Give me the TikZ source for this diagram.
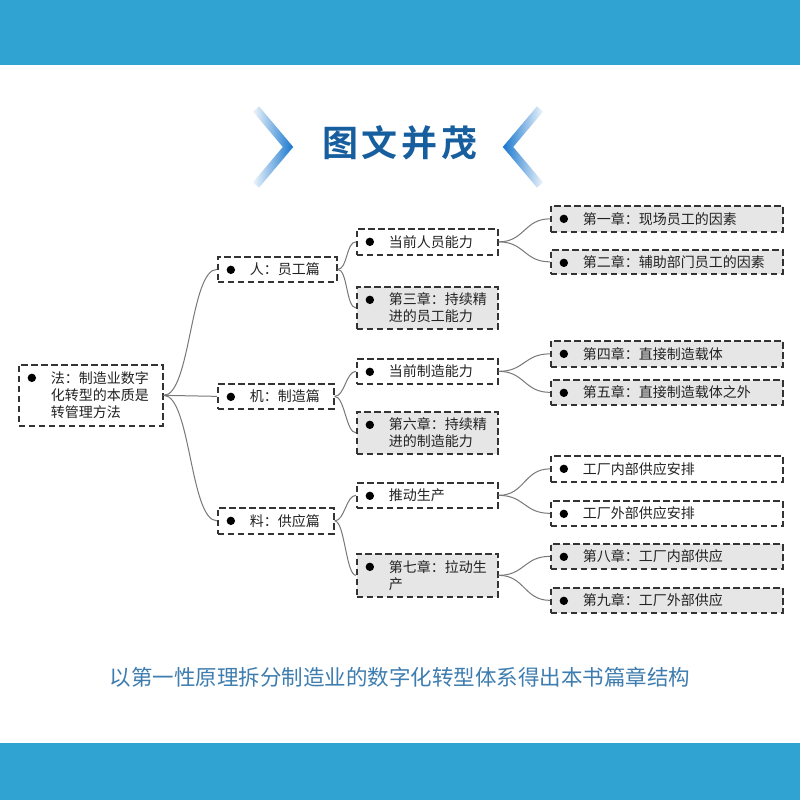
\documentclass[tikz,border=0pt]{standalone}
\usepackage{fontspec}
\setmainfont{Noto Sans CJK SC}
\newfontfamily\titlefont{Noto Sans CJK SC Bold}
\usetikzlibrary{fadings}
\definecolor{barblue}{RGB}{49,163,211}
\definecolor{titleblue}{RGB}{22,94,158}
\definecolor{chevblue}{RGB}{30,122,208}
\definecolor{capblue}{RGB}{62,125,175}
\definecolor{boxline}{RGB}{51,51,51}
\definecolor{boxgray}{RGB}{230,230,230}
\definecolor{connc}{RGB}{120,120,120}
\definecolor{textc}{RGB}{34,34,34}
\tikzfading[name=fadeL, left color=transparent!95, middle color=transparent!10, right color=transparent!0]
\tikzfading[name=fadeR, left color=transparent!0, middle color=transparent!10, right color=transparent!95]
\newcommand\boxtxt[2]{\makebox[#1][l]{\hspace{32pt}\raisebox{-2pt}[\height][\depth]{\begin{tabular}{@{}l@{}}#2\end{tabular}}}}
\begin{document}
\begin{tikzpicture}[x=1pt,y=-1pt,
  box/.style={rectangle, draw=boxline, line width=1.7pt, dash pattern=on 6.5pt off 3.5pt,
    anchor=north west, inner sep=0pt, text=textc,
    font=\fontsize{14pt}{17pt}\selectfont,
    path picture={\fill[black] ([xshift=13pt,yshift=-13pt]path picture bounding box.north west) circle (4.2pt);}},
  wbox/.style={box, fill=white},
  gbox/.style={box, fill=boxgray},
  conn/.style={draw=connc, line width=1pt},
  chev/.style={draw=chevblue, line width=8pt, line join=miter, line cap=butt}
]
\useasboundingbox (0,0) rectangle (800,800);
\fill[white] (0,0) rectangle (800,800);
\fill[barblue] (0,0) rectangle (800,65);
\fill[barblue] (0,743) rectangle (800,800);

% title and chevrons
\node[text=titleblue, font=\titlefont\fontsize{36pt}{40pt}\selectfont\addfontfeature{LetterSpace=11}] (title) at (400,143) {图文并茂};
\draw[chev, path fading=fadeL] (256,109) -- (288,147) -- (256,185);
\draw[chev, path fading=fadeR] (540,109) -- (508,147) -- (540,185);

% tree
\node[wbox, minimum height=61pt] (root) at (18,364) {\boxtxt{144pt}{法：制造业数字\\化转型的本质是\\转管理方法}};

\node[wbox, minimum height=25pt] (ren) at (217,256) {\boxtxt{119pt}{人：员工篇}};
\node[wbox, minimum height=25pt] (ji) at (217,383) {\boxtxt{116pt}{机：制造篇}};
\node[wbox, minimum height=26pt] (liao) at (217,507) {\boxtxt{116pt}{料：供应篇}};

\node[wbox, minimum height=26pt] (dqry) at (356,228) {\boxtxt{141pt}{当前人员能力}};
\node[gbox, minimum height=42pt] (ch3) at (356,286) {\boxtxt{141pt}{第三章：持续精\\进的员工能力}};
\node[wbox, minimum height=25pt] (dqzz) at (356,358) {\boxtxt{141pt}{当前制造能力}};
\node[gbox, minimum height=42pt] (ch6) at (356,411) {\boxtxt{141pt}{第六章：持续精\\进的制造能力}};
\node[wbox, minimum height=25pt] (tdsc) at (356,482) {\boxtxt{141pt}{推动生产}};
\node[gbox, minimum height=43pt] (ch7) at (356,553) {\boxtxt{141pt}{第七章：拉动生\\产}};

\node[gbox, minimum height=26pt] (ch1) at (550,205) {\boxtxt{232pt}{第一章：现场员工的因素}};
\node[gbox, minimum height=24pt] (ch2) at (550,249) {\boxtxt{232pt}{第二章：辅助部门员工的因素}};
\node[gbox, minimum height=26pt] (ch4) at (550,340) {\boxtxt{232pt}{第四章：直接制造载体}};
\node[gbox, minimum height=25pt] (ch5) at (550,379) {\boxtxt{232pt}{第五章：直接制造载体之外}};
\node[wbox, minimum height=26pt] (gcnb) at (550,455) {\boxtxt{232pt}{工厂内部供应安排}};
\node[wbox, minimum height=25pt] (gcwb) at (550,500) {\boxtxt{232pt}{工厂外部供应安排}};
\node[gbox, minimum height=25pt] (ch8) at (550,543) {\boxtxt{232pt}{第八章：工厂内部供应}};
\node[gbox, minimum height=25pt] (ch9) at (550,587) {\boxtxt{232pt}{第九章：工厂外部供应}};

% connectors
\foreach \c in {ren,ji,liao}
  \draw[conn] (root.east) .. controls +(27pt,0) and +(-27pt,0) .. (\c.west);
\foreach \p/\a/\b in {ren/dqry/ch3, ji/dqzz/ch6, liao/tdsc/ch7}{
  \draw[conn] (\p.east) .. controls +(10pt,0) and +(-10pt,0) .. (\a.west);
  \draw[conn] (\p.east) .. controls +(10pt,0) and +(-10pt,0) .. (\b.west);
}
\foreach \p/\a/\b in {dqry/ch1/ch2, dqzz/ch4/ch5, tdsc/gcnb/gcwb, ch7/ch8/ch9}{
  \draw[conn] (\p.east) .. controls +(26pt,0) and +(-26pt,0) .. (\a.west);
  \draw[conn] (\p.east) .. controls +(26pt,0) and +(-26pt,0) .. (\b.west);
}

% caption
\node[text=capblue, font=\fontsize{21.5pt}{24pt}\selectfont] (cap) at (400,677) {以第一性原理拆分制造业的数字化转型体系得出本书篇章结构};
\end{tikzpicture}
\end{document}
